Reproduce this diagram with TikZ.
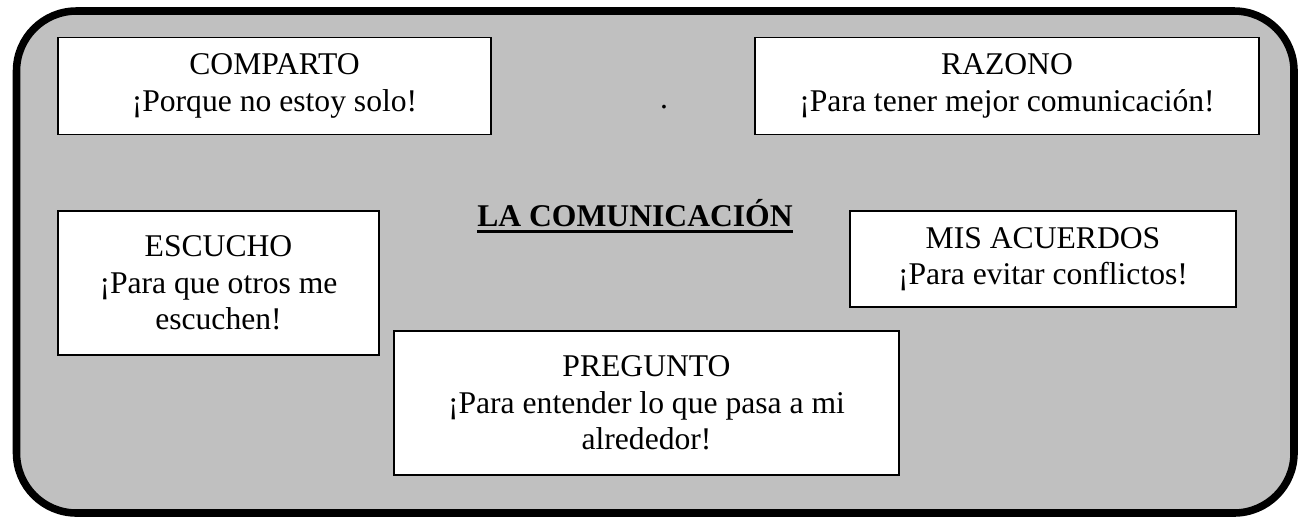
\documentclass[tikz,border=0pt]{standalone}
\usepackage{fontspec}
\setmainfont{Liberation Serif}
\usepackage{xcolor}
\definecolor{framegray}{HTML}{C0C0C0}

\begin{document}
\begin{tikzpicture}[x=0.02cm, y=-0.02cm,
    card/.style={draw, line width=1.1pt, fill=white, inner sep=0pt, align=center,
                 font=\fontsize{18}{20.8}\selectfont}]
    \useasboundingbox (0,0) rectangle (1300,522);
    % Frame
    \draw[line width=4.3pt, fill=framegray, rounded corners=1.2cm] (16.5,11) rectangle (1294,513);
    % Cards
    \node[card, minimum width=8.66cm, minimum height=1.94cm] (comparto) at (274.5,86) {COMPARTO\\¡Porque no estoy solo!};
    \node[card, minimum width=10.08cm, minimum height=1.94cm] (razono) at (1007,86) {RAZONO\\¡Para tener mejor comunicación!};
    \node[card, minimum width=6.42cm, minimum height=2.88cm] (escucho) at (218.5,283) {ESCUCHO\\¡Para que otros me\\escuchen!};
    \node[card, minimum width=7.72cm, minimum height=1.92cm] (acuerdos) at (1043,259) {MIS ACUERDOS\\¡Para evitar conflictos!};
    \node[card, minimum width=10.1cm, minimum height=2.88cm] (pregunto) at (646.5,403) {PREGUNTO\\¡Para entender lo que pasa a mi\\alrededor!};
    % Title
    \node[inner sep=0pt, anchor=base, font=\fontsize{18}{20.8}\selectfont\bfseries] (titulo) at (635,226) {LA COMUNICACIÓN};
    \draw[line width=1.7pt] ([yshift=-3.4pt]titulo.base west) -- ([yshift=-3.4pt]titulo.base east);
    % Stray dot
    \node[inner sep=0pt, anchor=base, font=\fontsize{18}{20.8}\selectfont] (punto) at (664,108) {.};
\end{tikzpicture}
\end{document}
